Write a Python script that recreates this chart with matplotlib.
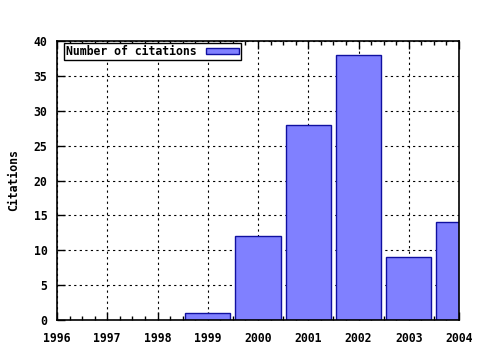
import matplotlib
matplotlib.use("Agg")
import matplotlib.pyplot as plt
from matplotlib.ticker import MultipleLocator

years = [1999, 2000, 2001, 2002, 2003, 2004]
citations = [1, 12, 28, 38, 9, 14]
y_ticks = [0, 5, 10, 15, 20, 25, 30, 35, 40]
x_ticks = [1996, 1997, 1998, 1999, 2000, 2001, 2002, 2003, 2004]

plt.rcParams['font.family'] = 'DejaVu Sans Mono'
plt.rcParams['font.weight'] = 'bold'
plt.rcParams['axes.labelweight'] = 'bold'
plt.rcParams['font.size'] = 8.3

fig = plt.figure(figsize=(4.8, 3.5), dpi=100)
ax = fig.add_axes([57/480, 30/350, (459-57)/480, (320-41)/350])

ax.bar(years, citations, width=0.9, color='#8080ff', edgecolor='#1010a0',
       linewidth=1.0, label='Number of citations', zorder=2)

ax.set_xlim(1996, 2004)
ax.set_ylim(0, 40)
ax.set_xticks(x_ticks)
ax.set_yticks(y_ticks)
ax.xaxis.set_minor_locator(MultipleLocator(0.25))
ax.grid(True, which='major', color='black', linestyle=(0, (2, 3)), linewidth=0.8, zorder=0)
ax.set_axisbelow(True)
ax.tick_params(which='both', direction='in', top=True, right=True, width=1)
ax.tick_params(which='major', length=6)
ax.tick_params(which='minor', length=3)
ax.tick_params(axis='y', right=False, pad=7)
ax.tick_params(axis='x', pad=9)
for s in ax.spines.values():
    s.set_linewidth(1.2)
ax.set_ylabel('Citations', labelpad=10, fontweight='bold')

leg = ax.legend(loc='upper left', bbox_to_anchor=(0.0174, 0.992),
                markerfirst=False, fancybox=False,
                framealpha=1, edgecolor='black', borderpad=0.15,
                handlelength=2.9, handleheight=0.45, borderaxespad=0,
                handletextpad=0.8)
leg.get_frame().set_linewidth(1.0)

fig.savefig('out.png', dpi=100)
